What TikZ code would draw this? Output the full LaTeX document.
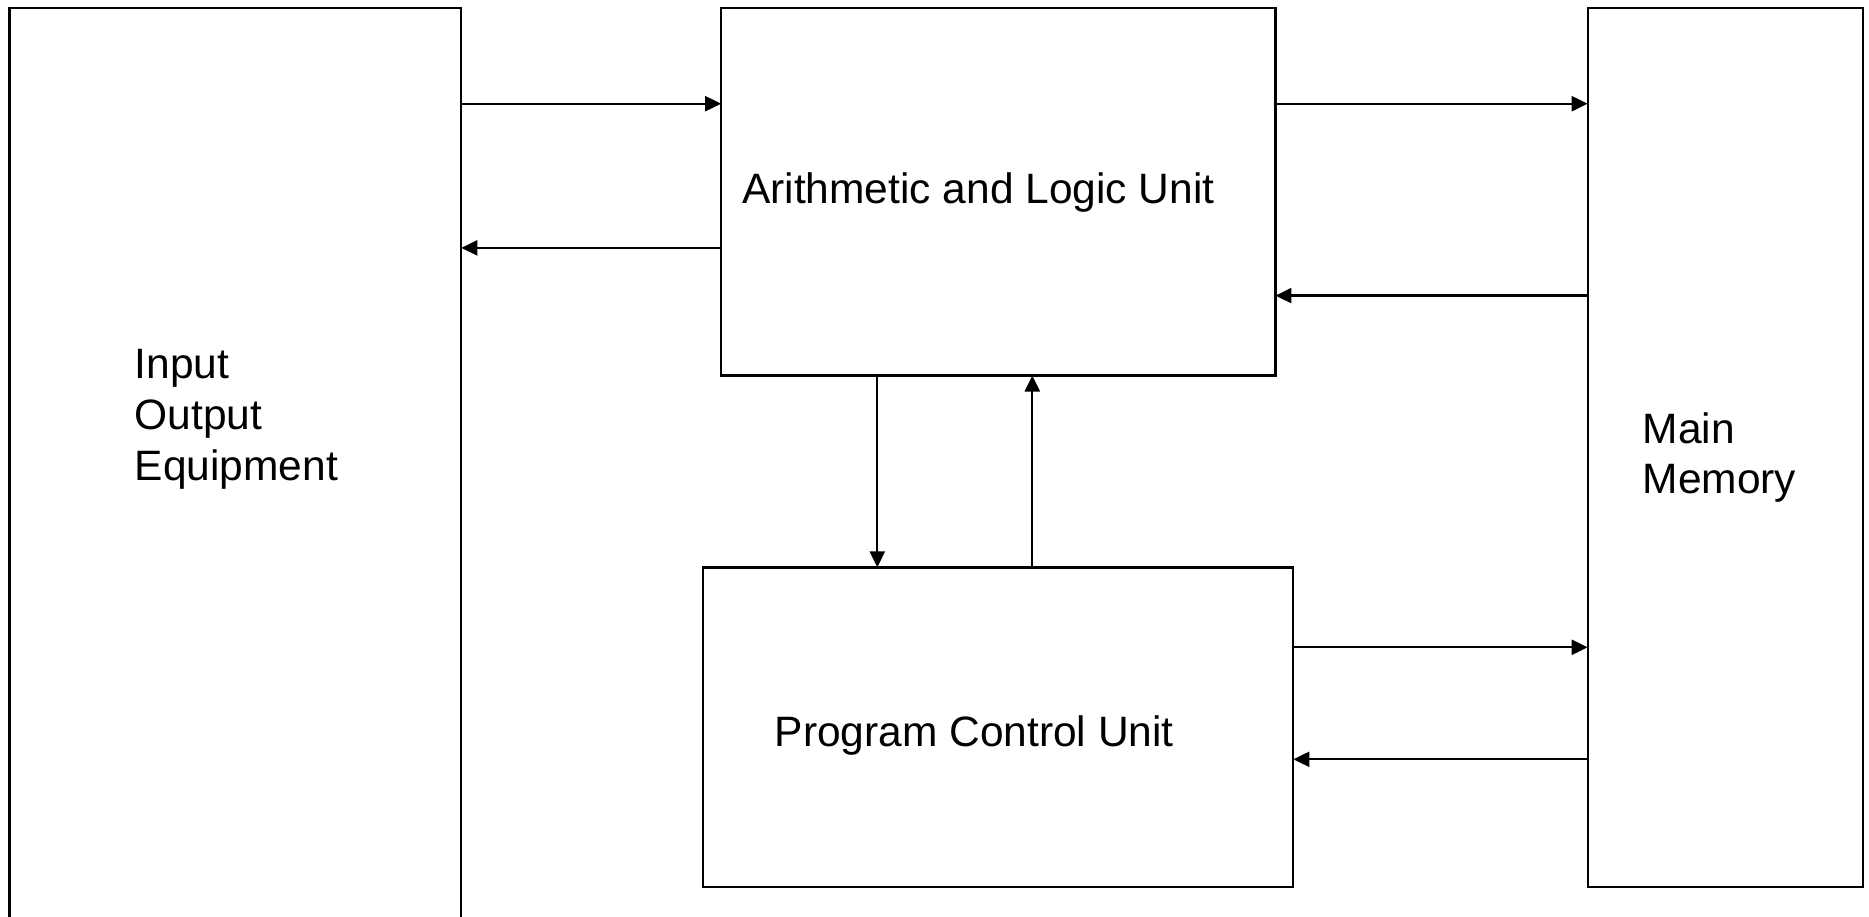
\documentclass[tikz,border=0pt]{standalone}
\usepackage{fontspec}
\setmainfont{Liberation Sans}
\usetikzlibrary{arrows.meta}
\tikzset{
  unitbox/.style={draw, line width=2.2pt, minimum width=#1, inner sep=0pt, outer sep=0pt},
  conn/.style={line width=2.2pt, -{Triangle[length=16pt,width=15pt]}},
  lbl/.style={anchor=base west, align=left, inner sep=0pt, font=\fontsize{42.5}{51}\selectfont}
}
\begin{document}
\begin{tikzpicture}[x=1pt,y=-1pt]
\useasboundingbox (0,0) rectangle (1869,917);
\clip (0,0) rectangle (1869,917);
\fill[white] (0,0) rectangle (1869,917);
\node[unitbox=451.8pt, minimum height=922pt] (io) at (235.4,469) {};
\node[unitbox=554.2pt, minimum height=367.2pt] (alu) at (998.3,191.9) {};
\node[unitbox=590pt, minimum height=319.4pt] (pcu) at (998.3,727.1) {};
\node[unitbox=275.4pt, minimum height=878.5pt] (mm) at (1725.4,447.6) {};
\node[lbl] (iotext) at (134.5,480.5) {Input\\Output\\Equipment};
\node[lbl] (alutext) at (742,203.3) {Arithmetic and Logic Unit};
\node[lbl] (pcutext) at (774.5,746.7) {Program Control Unit};
\node[lbl, font=\fontsize{42.5}{50}\selectfont] (mmtext) at (1642.5,493.5) {Main\\Memory};
\draw[conn] (io.east |- 0,103.7) -- (alu.west |- 0,103.7);
\draw[conn] (alu.west |- 0,247.9) -- (io.east |- 0,247.9);
\draw[conn] (alu.east |- 0,103.7) -- (mm.west |- 0,103.7);
\draw[conn] (mm.west |- 0,295.6) -- (alu.east |- 0,295.6);
\draw[conn] (alu.south -| 877.3,0) -- (pcu.north -| 877.3,0);
\draw[conn] (pcu.north -| 1032.3,0) -- (alu.south -| 1032.3,0);
\draw[conn] (pcu.east |- 0,647.3) -- (mm.west |- 0,647.3);
\draw[conn] (mm.west |- 0,759.3) -- (pcu.east |- 0,759.3);
\end{tikzpicture}
\end{document}
